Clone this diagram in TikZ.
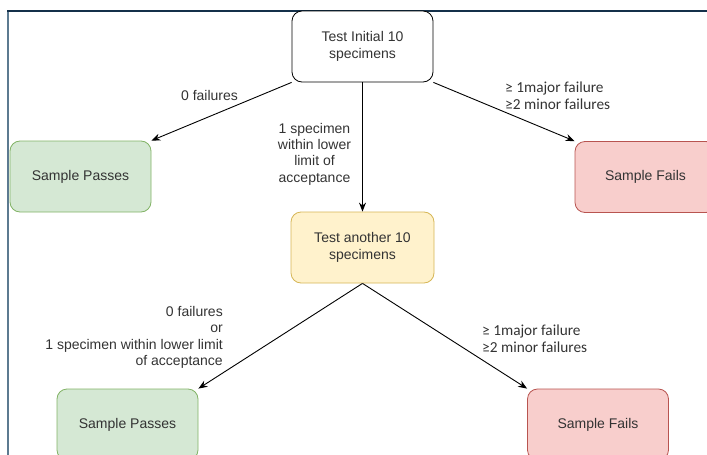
\documentclass[tikz,border=0pt]{standalone}
\usepackage{fontspec}
\setmainfont{Liberation Sans}
\newfontfamily\calfont{Carlito}
\usetikzlibrary{positioning,arrows.meta}

\definecolor{passfill}{HTML}{D5E8D4}
\definecolor{passline}{HTML}{82B366}
\definecolor{failfill}{HTML}{F8CECC}
\definecolor{failline}{HTML}{B85450}
\definecolor{testfill}{HTML}{FFF2CC}
\definecolor{testline}{HTML}{D6B656}
\definecolor{frametop}{HTML}{14304A}
\definecolor{frameleft}{HTML}{5C7A90}
\definecolor{txt}{HTML}{333333}

\begin{document}
\begin{tikzpicture}[x=1pt, y=-1pt, node distance=201pt,
    box/.style={rectangle, rounded corners=10pt, line width=0.8pt, minimum width=141pt, minimum height=71pt, text centered, align=center, text=txt, font=\fontsize{14}{17}\selectfont},
    begin/.style={box, draw=black, fill=white},
    retry/.style={box, draw=testline, fill=testfill, minimum width=143pt},
    pass/.style={box, draw=passline, fill=passfill},
    fail/.style={box, draw=failline, fill=failfill},
    cond/.style={text=txt, inner sep=0pt, font=\fontsize{14}{16.3}\selectfont},
    major/.style={text=txt, inner sep=0pt, align=left, font=\calfont\fontsize{15.3}{17}\selectfont},
    flow/.style={-{Stealth[length=9pt, width=7pt]}, line width=0.9pt}]

\useasboundingbox (0,0) rectangle (707,455);
\clip (0,0) rectangle (707,455);

% Frame of the screenshot
\draw[frameleft, line width=1.6pt] (8,11) -- (8,460);
\draw[frametop, line width=1.6pt] (7,11) -- (710,11);

% Workflow nodes
\node[begin] (init) at (362.5,46.5) {Test Initial 10\\specimens};
\node[retry, below of=init] (retest) {Test another 10\\specimens};
\node[pass] (pass1) at (80.5,176.5) {Sample Passes};
\node[fail] (fail1) at (645.5,177) {Sample Fails};
\node[pass] (pass2) at (127.5,424.5) {Sample Passes};
\node[fail, right of=pass2, node distance=470.5pt] (fail2) {Sample Fails};

% Labels
\node[cond] (zero1) at (209.5,95) {0 failures};
\node[cond, align=center] (lower1) at (314.5,154) {1 specimen\\within lower\\limit of\\acceptance};
\node[major, anchor=west] (major1) at (505,95.5) {≥ 1major failure\\≥2 minor failures};
\node[cond, align=right, anchor=east] (zero2) at (223,337.5) {0 failures\\or\\1 specimen within lower limit\\of acceptance};
\node[major, anchor=west] (major2) at (482,339) {≥ 1major failure\\≥2 minor failures};

% Arrows
\draw[flow] (init.south west) -- (pass1.north east);
\draw[flow] (init.south) -- (retest.north);
\draw[flow] (init.south east) -- (fail1.north west);
\draw[flow] (retest.south) -- (pass2.north east);
\draw[flow] (retest.south) -- (fail2.north west);

\end{tikzpicture}
\end{document}
